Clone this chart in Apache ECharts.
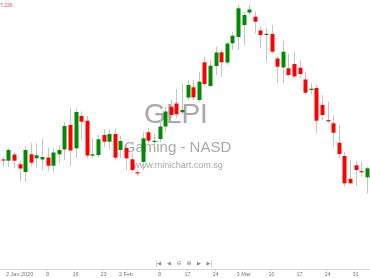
<!DOCTYPE html>
<html><head><meta charset="utf-8">
<script src="https://cdn.jsdelivr.net/npm/echarts@6/dist/echarts.min.js"></script>
<style>html,body{margin:0;padding:0;background:#fff}#c{width:370px;height:278px}</style>
</head><body><div id="c"></div>
<script>
// Candle values (open, close, low, high), one per trading day
const openVals  = [14.05,13.93,14.55,13.57,12.8,14.57,14.17,14.05,14.25,13.43,14.57,15.05,17.5,15.17,18.4,17.93,14.43,14.5,16.5,15.83,16.6,15.0,15.2,14.07,12.77,13.8,16.77,15.8,16.1,17.35,19.33,19.65,18.77,20.25,21.27,20.0,23.77,21.4,23.4,24.77,23.75,25.67,26.3,27.5,28.75,28.33,26.95,26.5,26.6,24.15,23.25,23.17,23.6,23.23,22.05,21.0,21.2,19.5,17.98,17.67,15.73,14.4,12.1,13.47,12.88,12.27];
const closeVals = [13.95,15.0,13.93,13.15,15.0,13.73,14.47,14.3,13.43,14.75,15.0,17.4,14.95,18.8,17.83,14.45,14.57,16.07,15.83,16.6,14.23,15.9,14.17,13.0,12.67,16.17,15.93,15.92,17.35,18.85,18.5,18.57,19.0,21.5,20.27,21.83,21.6,23.43,24.75,23.77,25.65,26.43,29.17,28.5,29.05,27.83,26.5,26.62,24.83,23.33,24.83,22.5,22.35,22.6,20.73,21.13,17.93,18.5,17.88,16.73,14.6,11.67,11.67,13.0,12.78,13.17];
const lowVals   = [13.33,13.3,13.2,11.85,11.77,13.4,13.2,13.0,12.9,12.8,13.7,14.0,13.4,14.2,16.0,14.2,14.2,14.3,15.3,15.0,14.0,14.2,13.0,12.8,12.4,13.0,15.7,15.5,15.8,16.83,18.2,18.2,18.5,20.0,20.0,19.83,21.33,21.33,22.5,22.33,23.5,25.0,25.0,25.5,28.5,26.67,25.17,23.75,24.67,21.67,21.67,22.33,22.17,22.17,20.5,20.6,16.67,18.0,17.67,15.33,14.17,11.33,11.6,11.43,12.33,10.67];
const highVals  = [14.33,15.2,14.8,13.85,15.33,15.7,15.7,16.15,15.2,15.2,15.5,17.8,19.17,19.2,18.9,18.4,16.2,16.5,17.1,17.1,17.15,16.4,15.7,14.7,13.0,16.8,17.2,16.7,18.0,19.33,20.0,21.1,21.67,22.0,22.0,22.83,24.33,24.0,25.33,25.0,25.83,26.83,29.5,28.8,29.5,28.83,27.4,27.17,27.5,24.33,25.93,24.6,24.8,24.0,22.8,21.67,21.5,20.5,19.83,18.5,17.5,14.83,14.0,13.9,13.83,13.33];
// Date tick labels and the candle index each sits under
const tickLabels = ['2 Jan 2020','9','16','23','2 Feb','9','17','24','3 Mar','10','17','24','31'];
const tickIndex  = [3,8,13,18,22,28,33,38,43,48,53,58,63];
const priceLabel = '7.230';

const categories = openVals.map((_, i) => {
  const k = tickIndex.indexOf(i);
  return k >= 0 ? tickLabels[k] : '';
});
const data = openVals.map((o, i) => [i, o, closeVals[i], lowVals[i], highVals[i]]);

const chart = echarts.init(document.getElementById('c'), null, {renderer: 'canvas'});
const isTick = (i) => tickIndex.indexOf(i) >= 0;
chart.setOption({
  animation: false,
  backgroundColor: '#ffffff',
  grid: {left: -1.4, width: 371, top: 0, bottom: 9},
  xAxis: {
    type: 'category', data: categories, boundaryGap: true,
    axisLine: {lineStyle: {color: '#d6d6d6', width: 1}},
    axisTick: {show: true, interval: isTick, alignWithLabel: true, length: 2, lineStyle: {color: '#d0d0d0'}},
    axisLabel: {interval: isTick, fontSize: 5.5, color: '#777', margin: 2.5, fontFamily: 'Liberation Sans'},
    splitLine: {show: false}
  },
  yAxis: {type: 'value', min: 3.1, max: 30, show: false, splitLine: {show: false}},
  graphic: [
    {type: 'text', left: 0, top: 3, z: 10, style: {text: priceLabel, fill: '#ff4040', font: '5px "Liberation Sans"'}},
    {type: 'text', x: 176, y: 115, z: -10, style: {text: 'GLPI', fill: '#a8a8a8', font: '28px "Liberation Sans"', align: 'center', verticalAlign: 'middle'}},
    {type: 'text', x: 177.5, y: 147.5, z: -10, style: {text: 'Gaming - NASD', fill: '#a8a8a8', font: '15px "Liberation Sans"', align: 'center', verticalAlign: 'middle'}},
    {type: 'text', x: 178, y: 166, z: -10, style: {text: 'www.minichart.com.sg', fill: '#a8a8a8', font: '9px "Liberation Sans"', align: 'center', verticalAlign: 'middle'}},
    {type: 'text', x: 158.3, y: 263.3, style: {text: '|◀', fill: '#888', font: '5px "DejaVu Sans"', align: 'center', verticalAlign: 'middle'}},
    {type: 'text', x: 169, y: 263.3, style: {text: '◀', fill: '#888', font: '5px "DejaVu Sans"', align: 'center', verticalAlign: 'middle'}},
    {type: 'text', x: 179, y: 263.3, style: {text: '⊖', fill: '#888', font: '6px "DejaVu Sans"', align: 'center', verticalAlign: 'middle'}},
    {type: 'text', x: 189, y: 263.3, style: {text: '⊕', fill: '#888', font: '6px "DejaVu Sans"', align: 'center', verticalAlign: 'middle'}},
    {type: 'text', x: 199, y: 263.3, style: {text: '▶', fill: '#888', font: '5px "DejaVu Sans"', align: 'center', verticalAlign: 'middle'}},
    {type: 'text', x: 209.3, y: 263.3, style: {text: '▶|', fill: '#888', font: '5px "DejaVu Sans"', align: 'center', verticalAlign: 'middle'}}
  ],
  series: [{
    type: 'custom',
    z: 5,
    data: data,
    encode: {x: 0, y: [1, 2, 3, 4]},
    renderItem: function (params, api) {
      const i = api.value(0);
      const o = api.value(1), c = api.value(2), lo = api.value(3), hi = api.value(4);
      const po = api.coord([i, o]), pc = api.coord([i, c]);
      const pl = api.coord([i, lo]), ph = api.coord([i, hi]);
      const x = Math.round(po[0]) + 0.5;
      const bw = 4;
      const up = c >= o;
      let top = Math.min(po[1], pc[1]), bot = Math.max(po[1], pc[1]);
      if (bot - top < 1.2) { const m = (top + bot) / 2; top = m - 0.6; bot = m + 0.6; }
      return {
        type: 'group',
        children: [
          {type: 'line', shape: {x1: x, y1: ph[1], x2: x, y2: pl[1]}, style: {stroke: '#c4c4c4', lineWidth: 1}},
          {type: 'rect', shape: {x: x - bw / 2, y: top, width: bw, height: bot - top}, style: {fill: up ? '#008a00' : '#ff0000'}}
        ]
      };
    }
  }]
});
</script></body></html>
